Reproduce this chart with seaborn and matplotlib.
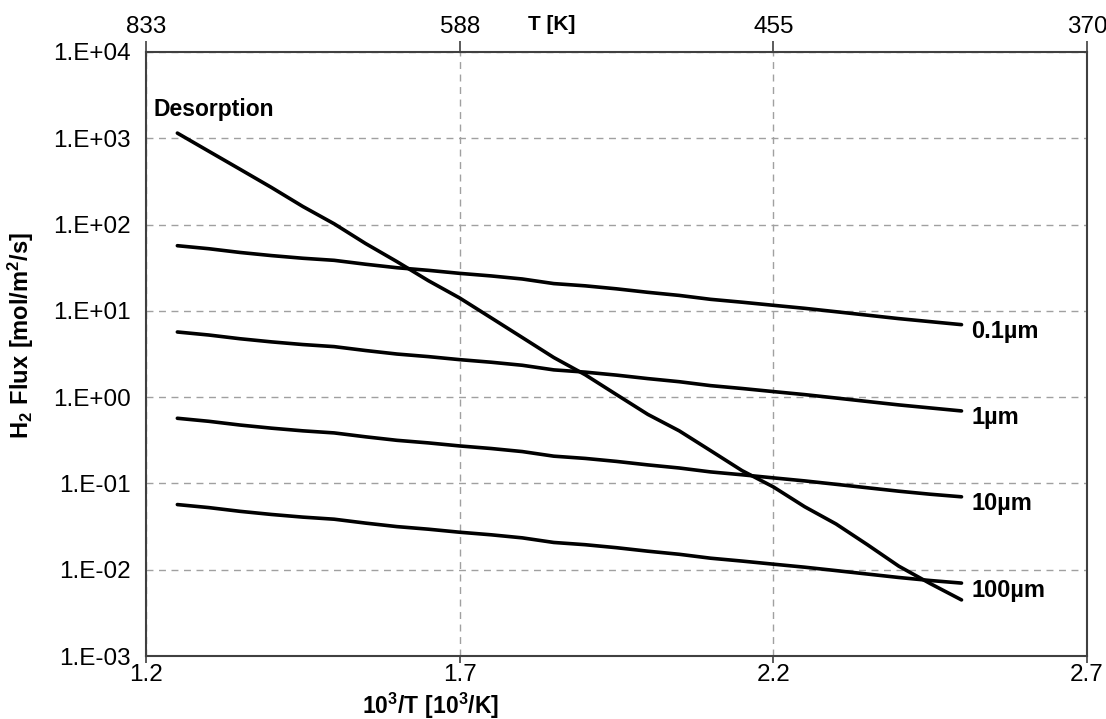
import numpy as np
import pandas as pd
import matplotlib
matplotlib.use("Agg")
import matplotlib.pyplot as plt
from matplotlib.ticker import FixedLocator, FixedFormatter, NullLocator
import seaborn as sns

# ---------------- data ----------------
inv_T = [1.25, 1.30, 1.35, 1.40, 1.45, 1.50, 1.55, 1.60, 1.65, 1.70, 1.75, 1.80, 1.85,
         1.90, 1.95, 2.00, 2.05, 2.10, 2.15, 2.20, 2.25, 2.30, 2.35, 2.40, 2.45, 2.50]

desorption = [1148, 708, 437, 269, 162, 102, 60.3, 37.2, 22.4, 14.1, 8.32, 4.90, 2.88,
              1.82, 1.07, 0.631, 0.407, 0.240, 0.141, 0.0912, 0.0537, 0.0339, 0.0195,
              0.0110, 0.00692, 0.00447]
flux_01um = [56.9, 52.5, 47.5, 43.7, 40.7, 38.5, 34.7, 31.6, 29.5, 27.2, 25.4, 23.4, 20.7,
             19.5, 18.0, 16.4, 15.1, 13.6, 12.6, 11.6, 10.7, 9.77, 8.91, 8.13, 7.50, 6.92]
flux_1um = [5.69, 5.25, 4.75, 4.37, 4.07, 3.85, 3.47, 3.16, 2.95, 2.72, 2.54, 2.34, 2.07,
            1.95, 1.80, 1.64, 1.51, 1.36, 1.26, 1.16, 1.07, 0.977, 0.891, 0.813, 0.750, 0.692]
flux_10um = [0.569, 0.525, 0.475, 0.437, 0.407, 0.385, 0.347, 0.316, 0.295, 0.272, 0.254,
             0.234, 0.207, 0.195, 0.180, 0.164, 0.151, 0.136, 0.126, 0.116, 0.107, 0.0977,
             0.0891, 0.0813, 0.0750, 0.0700]
flux_100um = [0.0569, 0.0525, 0.0475, 0.0437, 0.0407, 0.0385, 0.0347, 0.0316, 0.0295,
              0.0272, 0.0254, 0.0234, 0.0207, 0.0195, 0.0180, 0.0164, 0.0151, 0.0136,
              0.0126, 0.0116, 0.0107, 0.00977, 0.00891, 0.00813, 0.00750, 0.00700]

series_names = ["Desorption", "0.1µm", "1µm", "10µm", "100µm"]
series_values = [desorption, flux_01um, flux_1um, flux_10um, flux_100um]

x_ticks = [1.2, 1.7, 2.2, 2.7]
x_tick_labels = ["1.2", "1.7", "2.2", "2.7"]
top_tick_labels = ["833", "588", "455", "370"]
y_ticks = [1e-3, 1e-2, 1e-1, 1e0, 1e1, 1e2, 1e3, 1e4]
y_tick_labels = ["1.E-03", "1.E-02", "1.E-01", "1.E+00", "1.E+01", "1.E+02", "1.E+03", "1.E+04"]

df = pd.concat([pd.DataFrame({"x": inv_T, "y": v, "series": n})
                for n, v in zip(series_names, series_values)], ignore_index=True)

# ---------------- style ----------------
sns.set_style("white")
plt.rcParams['font.family'] = ['Liberation Sans', 'DejaVu Sans']
plt.rcParams['mathtext.fontset'] = 'custom'
plt.rcParams['mathtext.rm'] = 'Liberation Sans'
plt.rcParams['mathtext.bf'] = 'Liberation Sans:bold'
plt.rcParams['text.color'] = 'black'
plt.rcParams['axes.labelcolor'] = 'black'
plt.rcParams['xtick.labelcolor'] = 'black'
plt.rcParams['ytick.labelcolor'] = 'black'

fig = plt.figure(figsize=(11.06, 7.19), dpi=100)
ax = fig.add_axes([0.132, 0.0876, 0.8508, 0.8401])

sns.lineplot(data=df, x="x", y="y", hue="series", palette=["black"] * 5,
             linewidth=2.6, legend=False, ax=ax, sort=False)

ax.set_yscale("log")
ax.set_xlim(1.2, 2.7)
ax.set_ylim(1e-3, 1e4)

ax.xaxis.set_major_locator(FixedLocator(x_ticks))
ax.xaxis.set_major_formatter(FixedFormatter(x_tick_labels))
ax.yaxis.set_major_locator(FixedLocator(y_ticks))
ax.yaxis.set_major_formatter(FixedFormatter(y_tick_labels))
ax.yaxis.set_minor_locator(NullLocator())

ax.grid(True, which="major", color="#a0a0a0", linestyle=(0, (5, 4)), linewidth=1.0)
for s in ax.spines.values():
    s.set_color("#404040")
    s.set_linewidth(1.5)

ax.tick_params(axis="y", which="major", direction="out", length=8, width=1.2,
               color="#404040", labelcolor="black", labelsize=17.5, pad=3, right=False)
ax.tick_params(axis="x", which="major", direction="out", length=5, width=1.2,
               color="#404040", labelcolor="black", labelsize=17.5, pad=1)

ax.set_xlabel(r"$\mathbf{10^3/T\ [10^3/K]}$", fontsize=16.5, color="black")
ax.xaxis.set_label_coords(0.302, -0.058)
ax.set_ylabel(r"$\mathbf{H_2\ Flux\ [mol/m^2/s]}$", fontsize=17, color="black")
ax.yaxis.set_label_coords(-0.117, 0.531)

# top axis with temperature
ax2 = ax.twiny()
ax2.set_xlim(ax.get_xlim())
ax2.xaxis.set_major_locator(FixedLocator(x_ticks))
ax2.xaxis.set_major_formatter(FixedFormatter(top_tick_labels))
ax2.tick_params(axis="x", direction="out", length=8, width=1.2, color="#404040",
                labelcolor="black", labelsize=17.5, pad=2)
for s in ax2.spines.values():
    s.set_visible(False)
ax2.set_xlabel("T [K]", fontsize=15, fontweight="bold", color="black")
ax2.xaxis.set_label_coords(0.431, 1.037)

# labels for curves
for n, v in zip(series_names[1:], series_values[1:]):
    ax.annotate(n, xy=(inv_T[-1], v[-1]), xytext=(10, -7), textcoords="offset pixels",
                fontsize=17, fontweight="bold", va="center", ha="left", color="black")
ax.annotate(series_names[0], xy=(inv_T[0], desorption[0]), xytext=(-24, 24),
            textcoords="offset pixels", fontsize=16.5, fontweight="bold",
            va="center", ha="left", color="black")

fig.savefig("out.png", dpi=100)
